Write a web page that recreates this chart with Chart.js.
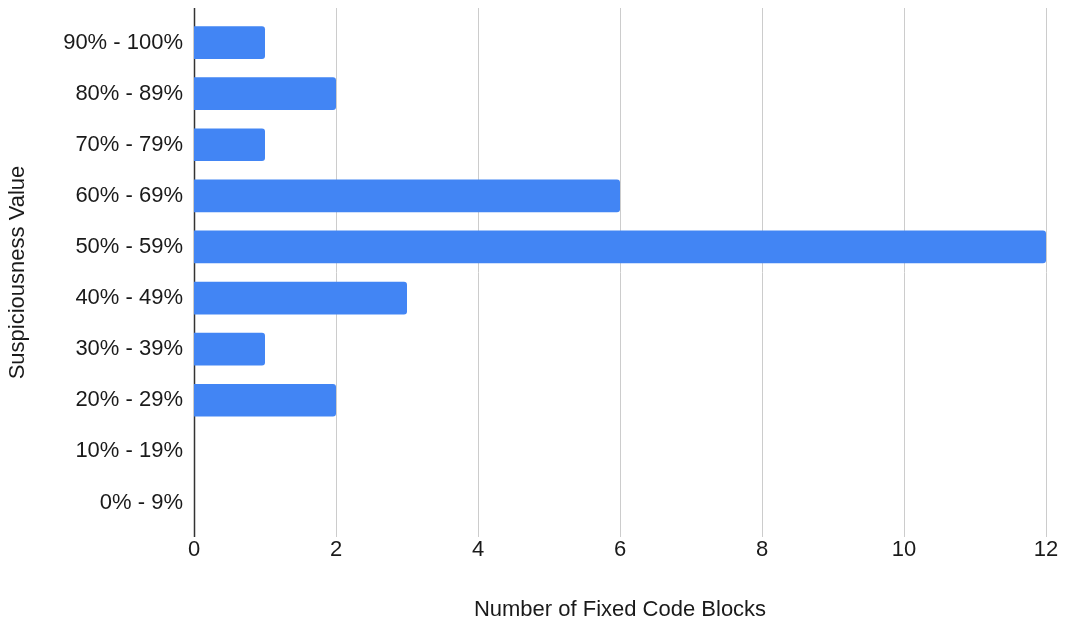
<!DOCTYPE html>
<html>
<head>
<meta charset="utf-8">
<script src="https://cdn.jsdelivr.net/npm/chart.js@4"></script>
<style>
  html, body { margin: 0; padding: 0; background: #fff; }
  #wrap { width: 1066px; height: 630px; }
</style>
</head>
<body>
<div id="wrap"><canvas id="chart" width="1066" height="630"></canvas></div>
<script>
// ===== DATA =====
const ranges = ['90% - 100%', '80% - 89%', '70% - 79%', '60% - 69%', '50% - 59%',
                '40% - 49%', '30% - 39%', '20% - 29%', '10% - 19%', '0% - 9%'];
const blockCounts = [1, 2, 1, 6, 12, 3, 1, 2, 0, 0];
const xTicks = [0, 2, 4, 6, 8, 10, 12];

const FONT = "'Liberation Sans', Arial, Helvetica, sans-serif";
const TEXT = '#1a1a1a';

// grid lines in the reference run a bit past the plot top and bottom
const longGrid = {
  id: 'longGrid',
  beforeDatasetsDraw(chart) {
    const { ctx, chartArea, scales } = chart;
    const ext = 9;
    ctx.save();
    xTicks.forEach(v => {
      const x = Math.round(scales.x.getPixelForValue(v)) + 0.5;
      ctx.beginPath();
      ctx.strokeStyle = v === 0 ? '#333333' : '#cccccc';
      ctx.lineWidth = v === 0 ? 1.5 : 1;
      ctx.moveTo(x, chartArea.top - ext);
      ctx.lineTo(x, chartArea.bottom + ext);
      ctx.stroke();
    });
    ctx.restore();
  }
};

new Chart(document.getElementById('chart'), {
  type: 'bar',
  data: {
    labels: ranges,
    datasets: [{
      data: blockCounts,
      backgroundColor: '#4285f4',
      borderRadius: { topRight: 3, bottomRight: 3 },
      borderSkipped: 'start',
      categoryPercentage: 1,
      barPercentage: 0.64
    }]
  },
  plugins: [longGrid],
  options: {
    indexAxis: 'y',
    responsive: false,
    animation: false,
    layout: { padding: { top: 17, right: 20, bottom: 7, left: 5 } },
    plugins: {
      legend: { display: false },
      tooltip: { enabled: false }
    },
    scales: {
      x: {
        min: 0,
        max: 12,
        afterBuildTicks(axis) { axis.ticks = xTicks.map(v => ({ value: v })); },
        afterFit(axis) { axis.height = 95; axis.paddingRight = 0; axis.paddingLeft = 0; },
        grid: { display: false, drawTicks: false },
        border: { display: false },
        ticks: { color: TEXT, font: { family: FONT, size: 22 }, padding: 9 },
        title: {
          display: true,
          text: 'Number of Fixed Code Blocks',
          color: TEXT,
          font: { family: FONT, size: 22 },
          padding: 0
        }
      },
      y: {
        afterFit(axis) { axis.width = 189; axis.paddingTop = 0; axis.paddingBottom = 0; },
        grid: { display: false, drawTicks: false },
        border: { display: false },
        ticks: { color: TEXT, font: { family: FONT, size: 22 }, padding: 11 },
        title: {
          display: true,
          text: 'Suspiciousness Value',
          color: TEXT,
          font: { family: FONT, size: 22 },
          padding: 0
        }
      }
    }
  }
});
</script>
</body>
</html>
